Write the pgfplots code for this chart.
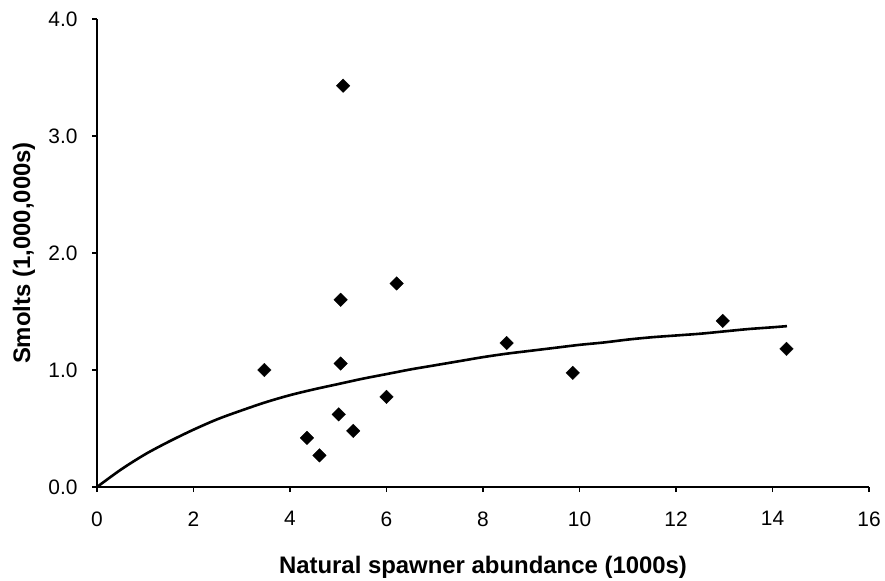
\documentclass[border=0pt]{standalone}
\usepackage{fontspec}
\setmainfont{Liberation Sans}
\usepackage{pgfplots}
\pgfplotsset{compat=1.18}
\begin{document}
\begin{tikzpicture}
\begin{axis}[
  scale only axis,
  width=772bp, height=468bp,
  xmin=0, xmax=16, ymin=0, ymax=4,
  axis x line*=bottom, axis y line*=left,
  axis line style={line width=1.3bp, -},
  xtick={0,2,4,6,8,10,12,14,16},
  xticklabels={0,2,4,6,8,10,12,14,16},
  ytick={0,1,2,3,4},
  yticklabels={0.0,1.0,2.0,3.0,4.0},
  tick align=outside,
  major tick length=5bp,
  tick style={line width=1.3bp, black},
  tick label style={font=\fontsize{21}{25}\selectfont},
  xticklabel style={yshift=-16bp},
  yticklabel style={xshift=-11bp},
  xlabel={\textbf{Natural spawner abundance (1000s)}},
  ylabel={\textbf{Smolts (1,000,000s)}},
  xlabel style={font=\fontsize{24}{28}\selectfont, at={(axis description cs:0.5,0)}, anchor=base, yshift=-86bp},
  ylabel style={font=\fontsize{24}{28}\selectfont, at={(axis description cs:0,0.5)}, anchor=center, yshift=73bp},
  clip=false,
]
\addplot[black, line width=2.6bp, smooth] table {
x y
0 0
0.5 0.15
1 0.28
1.5 0.39
2 0.49
2.5 0.58
3 0.655
3.5 0.725
4 0.785
4.5 0.835
5 0.88
5.5 0.925
6 0.965
6.5 1.005
7 1.04
7.5 1.075
8 1.11
8.5 1.14
9 1.165
9.5 1.19
10 1.215
10.5 1.235
11 1.26
11.5 1.28
12 1.295
12.5 1.31
13 1.33
13.5 1.35
14 1.365
14.3 1.375
};
\addplot[only marks, mark=square*, mark size=4.8bp, mark options={rotate=45, fill=black, draw=black, line width=0.3bp}] table {
x y
3.47 1.00
4.35 0.42
4.61 0.27
5.01 0.62
5.05 1.055
5.05 1.60
5.10 3.43
5.31 0.48
6.00 0.77
6.21 1.74
8.49 1.23
9.86 0.975
12.97 1.42
14.29 1.18
};
\end{axis}
\pgfresetboundingbox
\path (current axis.south west) ++(-97bp,-94bp) rectangle ++(885bp,581bp);
\end{tikzpicture}
\end{document}
